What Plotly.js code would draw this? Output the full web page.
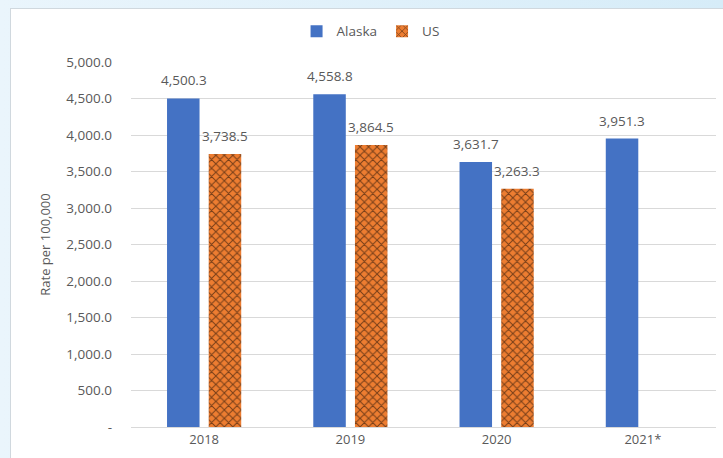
<!DOCTYPE html>
<html><head><meta charset="utf-8">
<script src="https://cdn.plot.ly/plotly-3.0.1.min.js"></script>
<style>
html,body{margin:0;padding:0;width:723px;height:458px;overflow:hidden;background:linear-gradient(90deg,#eaf5fc,#d6ecf8);}
#wrap{position:absolute;left:10px;top:8px;width:713px;height:450px;background:#fff;border-left:1px solid #d0d8de;border-top:1px solid #d0d8de;box-sizing:border-box;}
#chart{width:712px;height:449px;}
</style></head>
<body><div id="wrap"><div id="chart"></div></div>
<script>
const categories = ["2018", "2019", "2020", "2021*"];
const alaska = [4500.3, 4558.8, 3631.7, 3951.3];
const us = [3738.5, 3864.5, 3263.3, null];
const tickValues = [0, 500, 1000, 1500, 2000, 2500, 3000, 3500, 4000, 4500, 5000];
const tickLabels = ["-", "500.0", "1,000.0", "1,500.0", "2,000.0", "2,500.0", "3,000.0", "3,500.0", "4,000.0", "4,500.0", "5,000.0"];

const grey = "#595959";
const fam = "Open Sans, Liberation Sans, sans-serif";
const font = {family: fam, size: 13, color: grey};

const traces = [
  {type: "bar", name: "Alaska", x: categories, y: alaska,
   marker: {color: "#4472C4"}, hoverinfo: "none"},
  {type: "bar", name: "US", x: categories, y: us,
   marker: {color: "#ED7D31", line: {width: 0},
            pattern: {shape: "x", fillmode: "overlay", fgcolor: "#000000", size: 6, solidity: 0.3}},
   hoverinfo: "none"}
];

const fmt = v => v.toLocaleString("en-US", {minimumFractionDigits: 1, maximumFractionDigits: 1});
const annotations = [];
[[alaska, -20.5], [us, 20.5]].forEach(([vals, dx]) => {
  vals.forEach((v, i) => {
    if (v == null) return;
    annotations.push({x: i, y: v, xref: "x", yref: "y", text: fmt(v), showarrow: false,
      xshift: dx, yshift: 7, yanchor: "bottom", xanchor: "center",
      font: {family: fam, size: 13.5, color: grey}});
  });
});

const layout = {
  width: 712, height: 449,
  margin: {l: 120, r: 7, t: 53, b: 31},
  paper_bgcolor: "#ffffff", plot_bgcolor: "#ffffff",
  font: font,
  barmode: "group", bargap: 0.43, bargroupgap: 0.22,
  showlegend: true,
  annotations: annotations,
  legend: {orientation: "h", xref: "container", yref: "container", x: 0.505, xanchor: "center", y: 0.95, yanchor: "middle",
           font: {family: fam, size: 13.5, color: grey}, itemwidth: 30, traceorder: "normal"},
  xaxis: {type: "category", range: [-0.5, 3.5], autorange: false, showline: true, linecolor: "#d9d9d9", linewidth: 1, ticks: "", showgrid: false,
          tickfont: {family: fam, size: 13, color: grey}},
  yaxis: {range: [0, 5000], autorange: false, tickvals: tickValues, ticktext: tickLabels, showgrid: true, gridcolor: "#d9d9d9",
          zeroline: false, showline: false, ticks: "", ticklabelstandoff: 18,
          tickfont: {family: fam, size: 13.5, color: grey},
          title: {text: "Rate per 100,000", font: {family: fam, size: 13, color: grey}, standoff: 12}}
};
Plotly.newPlot("chart", traces, layout, {displayModeBar: false, staticPlot: true});
</script></body></html>
